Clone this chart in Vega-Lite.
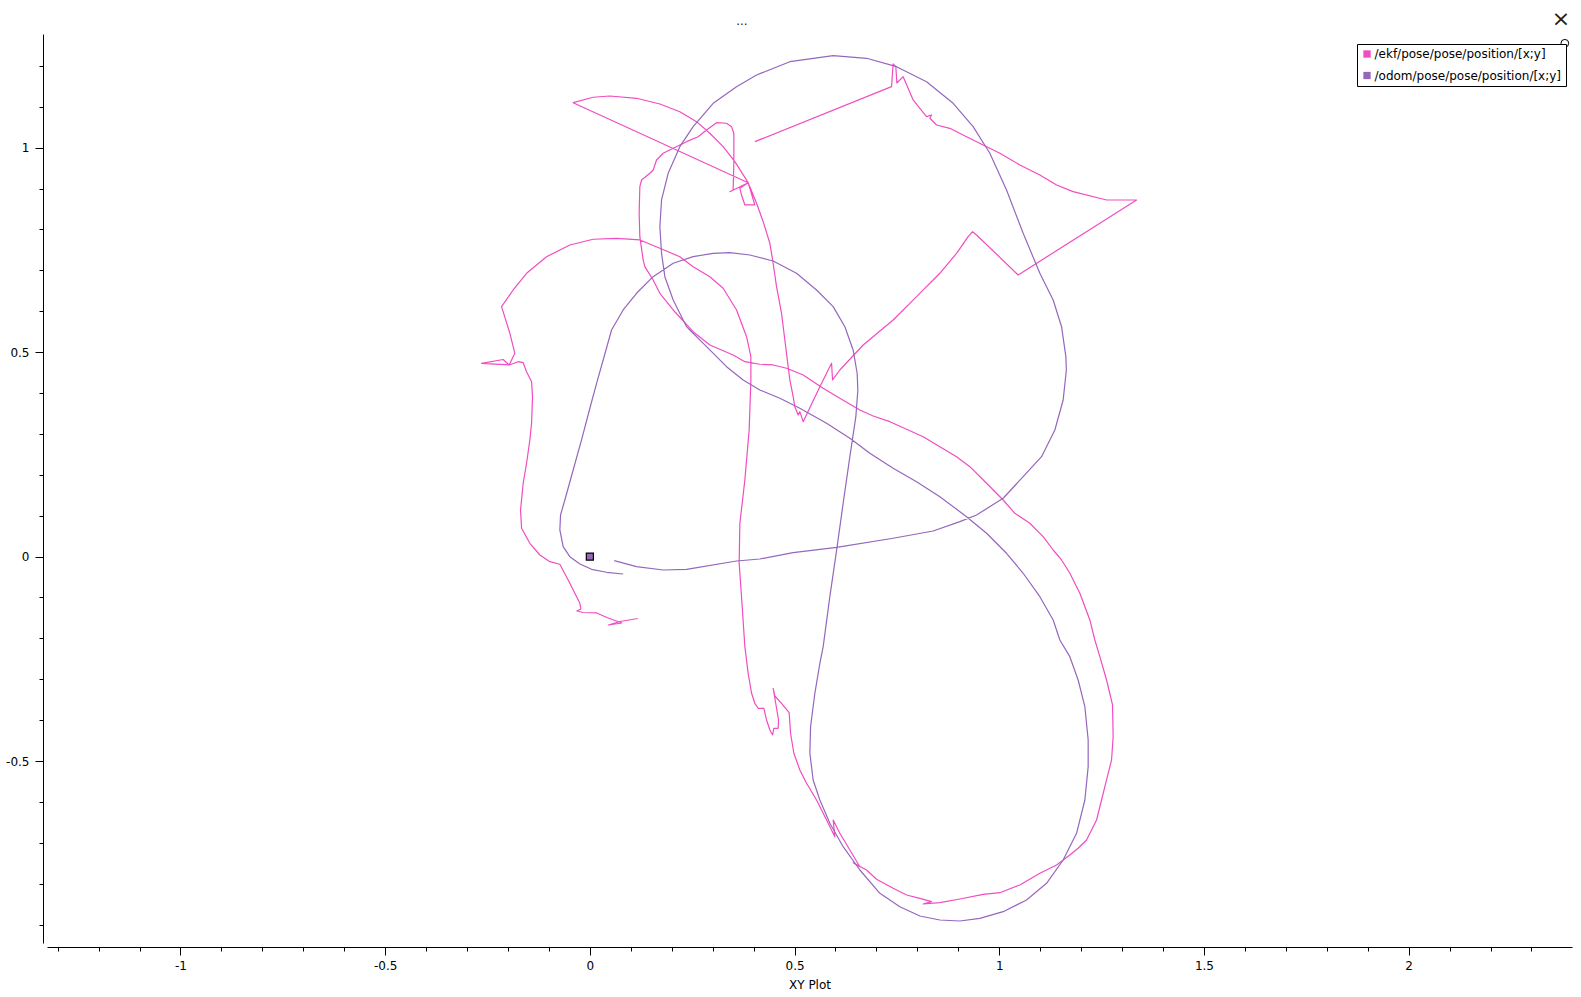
{
"$schema":"https://vega.github.io/schema/vega-lite/v6.json",
"width":1525,"height":909,
"autosize":{"type":"none"},
"padding":{"left":47,"top":34,"right":9,"bottom":54},
"background":"white",
"config":{"view":{"stroke":null},
"axis":{"domainColor":"#000","tickColor":"#000","labelColor":"#000","labelFont":"DejaVu Sans","labelFontSize":12,"titleFont":"DejaVu Sans","titleFontSize":12,"titleFontWeight":"normal","titleColor":"#000","grid":false,"domainWidth":1,"tickWidth":1,"labelOverlap":false,"labelFlush":false},
"legend":{"labelFont":"DejaVu Sans","labelFontSize":12,"labelColor":"#000"}},
"datasets":{
"curves":[
{"series":"/ekf/pose/pose/position/[x;y]","i":1,"x":0.1172,"y":-0.1514},
{"series":"/ekf/pose/pose/position/[x;y]","i":2,"x":0.0733,"y":-0.1587},
{"series":"/ekf/pose/pose/position/[x;y]","i":3,"x":0.0452,"y":-0.1673},
{"series":"/ekf/pose/pose/position/[x;y]","i":4,"x":0.0782,"y":-0.1624},
{"series":"/ekf/pose/pose/position/[x;y]","i":5,"x":0.0415,"y":-0.1489},
{"series":"/ekf/pose/pose/position/[x;y]","i":6,"x":0.0171,"y":-0.1379},
{"series":"/ekf/pose/pose/position/[x;y]","i":7,"x":-0.0171,"y":-0.1367},
{"series":"/ekf/pose/pose/position/[x;y]","i":8,"x":-0.0318,"y":-0.1330},
{"series":"/ekf/pose/pose/position/[x;y]","i":9,"x":-0.0220,"y":-0.1281},
{"series":"/ekf/pose/pose/position/[x;y]","i":10,"x":-0.0244,"y":-0.1142},
{"series":"/ekf/pose/pose/position/[x;y]","i":11,"x":-0.0489,"y":-0.0653},
{"series":"/ekf/pose/pose/position/[x;y]","i":12,"x":-0.0733,"y":-0.0188},
{"series":"/ekf/pose/pose/position/[x;y]","i":13,"x":-0.0977,"y":-0.0125},
{"series":"/ekf/pose/pose/position/[x;y]","i":14,"x":-0.1221,"y":0.0039},
{"series":"/ekf/pose/pose/position/[x;y]","i":15,"x":-0.1466,"y":0.0325},
{"series":"/ekf/pose/pose/position/[x;y]","i":16,"x":-0.1668,"y":0.0692},
{"series":"/ekf/pose/pose/position/[x;y]","i":17,"x":-0.1693,"y":0.1140},
{"series":"/ekf/pose/pose/position/[x;y]","i":18,"x":-0.1629,"y":0.1793},
{"series":"/ekf/pose/pose/position/[x;y]","i":19,"x":-0.1546,"y":0.2282},
{"series":"/ekf/pose/pose/position/[x;y]","i":20,"x":-0.1466,"y":0.2852},
{"series":"/ekf/pose/pose/position/[x;y]","i":21,"x":-0.1424,"y":0.3260},
{"series":"/ekf/pose/pose/position/[x;y]","i":22,"x":-0.1400,"y":0.3910},
{"series":"/ekf/pose/pose/position/[x;y]","i":23,"x":-0.1424,"y":0.4277},
{"series":"/ekf/pose/pose/position/[x;y]","i":24,"x":-0.1546,"y":0.4522},
{"series":"/ekf/pose/pose/position/[x;y]","i":25,"x":-0.1629,"y":0.4742},
{"series":"/ekf/pose/pose/position/[x;y]","i":26,"x":-0.1751,"y":0.4766},
{"series":"/ekf/pose/pose/position/[x;y]","i":27,"x":-0.1971,"y":0.4686},
{"series":"/ekf/pose/pose/position/[x;y]","i":28,"x":-0.2645,"y":0.4727},
{"series":"/ekf/pose/pose/position/[x;y]","i":29,"x":-0.2118,"y":0.4820},
{"series":"/ekf/pose/pose/position/[x;y]","i":30,"x":-0.1971,"y":0.4686},
{"series":"/ekf/pose/pose/position/[x;y]","i":31,"x":-0.1832,"y":0.4972},
{"series":"/ekf/pose/pose/position/[x;y]","i":32,"x":-0.1954,"y":0.5461},
{"series":"/ekf/pose/pose/position/[x;y]","i":33,"x":-0.2157,"y":0.6112},
{"series":"/ekf/pose/pose/position/[x;y]","i":34,"x":-0.1873,"y":0.6520},
{"series":"/ekf/pose/pose/position/[x;y]","i":35,"x":-0.1546,"y":0.6928},
{"series":"/ekf/pose/pose/position/[x;y]","i":36,"x":-0.1058,"y":0.7334},
{"series":"/ekf/pose/pose/position/[x;y]","i":37,"x":-0.0489,"y":0.7620},
{"series":"/ekf/pose/pose/position/[x;y]","i":38,"x":0.0081,"y":0.7760},
{"series":"/ekf/pose/pose/position/[x;y]","i":39,"x":0.0652,"y":0.7784},
{"series":"/ekf/pose/pose/position/[x;y]","i":40,"x":0.1221,"y":0.7743},
{"series":"/ekf/pose/pose/position/[x;y]","i":41,"x":0.1710,"y":0.7540},
{"series":"/ekf/pose/pose/position/[x;y]","i":42,"x":0.2198,"y":0.7334},
{"series":"/ekf/pose/pose/position/[x;y]","i":43,"x":0.2523,"y":0.7090},
{"series":"/ekf/pose/pose/position/[x;y]","i":44,"x":0.2931,"y":0.6845},
{"series":"/ekf/pose/pose/position/[x;y]","i":45,"x":0.3256,"y":0.6562},
{"series":"/ekf/pose/pose/position/[x;y]","i":46,"x":0.3583,"y":0.6031},
{"series":"/ekf/pose/pose/position/[x;y]","i":47,"x":0.3828,"y":0.5378},
{"series":"/ekf/pose/pose/position/[x;y]","i":48,"x":0.3933,"y":0.4889},
{"series":"/ekf/pose/pose/position/[x;y]","i":49,"x":0.3933,"y":0.4319},
{"series":"/ekf/pose/pose/position/[x;y]","i":50,"x":0.3891,"y":0.3096},
{"series":"/ekf/pose/pose/position/[x;y]","i":51,"x":0.3786,"y":0.1873},
{"series":"/ekf/pose/pose/position/[x;y]","i":52,"x":0.3664,"y":0.0814},
{"series":"/ekf/pose/pose/position/[x;y]","i":53,"x":0.3647,"y":-0.0164},
{"series":"/ekf/pose/pose/position/[x;y]","i":54,"x":0.3705,"y":-0.0981},
{"series":"/ekf/pose/pose/position/[x;y]","i":55,"x":0.3786,"y":-0.2203},
{"series":"/ekf/pose/pose/position/[x;y]","i":56,"x":0.3867,"y":-0.2854},
{"series":"/ekf/pose/pose/position/[x;y]","i":57,"x":0.3950,"y":-0.3343},
{"series":"/ekf/pose/pose/position/[x;y]","i":58,"x":0.4030,"y":-0.3588},
{"series":"/ekf/pose/pose/position/[x;y]","i":59,"x":0.4111,"y":-0.3710},
{"series":"/ekf/pose/pose/position/[x;y]","i":60,"x":0.4250,"y":-0.3710},
{"series":"/ekf/pose/pose/position/[x;y]","i":61,"x":0.4316,"y":-0.3996},
{"series":"/ekf/pose/pose/position/[x;y]","i":62,"x":0.4397,"y":-0.4241},
{"series":"/ekf/pose/pose/position/[x;y]","i":63,"x":0.4463,"y":-0.4363},
{"series":"/ekf/pose/pose/position/[x;y]","i":64,"x":0.4494,"y":-0.4199},
{"series":"/ekf/pose/pose/position/[x;y]","i":65,"x":0.4599,"y":-0.4199},
{"series":"/ekf/pose/pose/position/[x;y]","i":66,"x":0.4609,"y":-0.3996},
{"series":"/ekf/pose/pose/position/[x;y]","i":67,"x":0.4519,"y":-0.3465},
{"series":"/ekf/pose/pose/position/[x;y]","i":68,"x":0.4477,"y":-0.3221},
{"series":"/ekf/pose/pose/position/[x;y]","i":69,"x":0.4519,"y":-0.3409},
{"series":"/ekf/pose/pose/position/[x;y]","i":70,"x":0.4682,"y":-0.3588},
{"series":"/ekf/pose/pose/position/[x;y]","i":71,"x":0.4868,"y":-0.3818},
{"series":"/ekf/pose/pose/position/[x;y]","i":72,"x":0.4902,"y":-0.4321},
{"series":"/ekf/pose/pose/position/[x;y]","i":73,"x":0.4983,"y":-0.4810},
{"series":"/ekf/pose/pose/position/[x;y]","i":74,"x":0.5129,"y":-0.5219},
{"series":"/ekf/pose/pose/position/[x;y]","i":75,"x":0.5293,"y":-0.5544},
{"series":"/ekf/pose/pose/position/[x;y]","i":76,"x":0.5537,"y":-0.5953},
{"series":"/ekf/pose/pose/position/[x;y]","i":77,"x":0.5782,"y":-0.6442},
{"series":"/ekf/pose/pose/position/[x;y]","i":78,"x":0.5984,"y":-0.6850},
{"series":"/ekf/pose/pose/position/[x;y]","i":79,"x":0.5943,"y":-0.6442},
{"series":"/ekf/pose/pose/position/[x;y]","i":80,"x":0.6106,"y":-0.6767},
{"series":"/ekf/pose/pose/position/[x;y]","i":81,"x":0.6351,"y":-0.7175},
{"series":"/ekf/pose/pose/position/[x;y]","i":82,"x":0.6595,"y":-0.7584},
{"series":"/ekf/pose/pose/position/[x;y]","i":83,"x":0.6431,"y":-0.7486},
{"series":"/ekf/pose/pose/position/[x;y]","i":84,"x":0.6759,"y":-0.7665},
{"series":"/ekf/pose/pose/position/[x;y]","i":85,"x":0.7003,"y":-0.7892},
{"series":"/ekf/pose/pose/position/[x;y]","i":86,"x":0.7408,"y":-0.8112},
{"series":"/ekf/pose/pose/position/[x;y]","i":87,"x":0.7736,"y":-0.8276},
{"series":"/ekf/pose/pose/position/[x;y]","i":88,"x":0.8061,"y":-0.8357},
{"series":"/ekf/pose/pose/position/[x;y]","i":89,"x":0.8346,"y":-0.8440},
{"series":"/ekf/pose/pose/position/[x;y]","i":90,"x":0.8141,"y":-0.8496},
{"series":"/ekf/pose/pose/position/[x;y]","i":91,"x":0.8549,"y":-0.8464},
{"series":"/ekf/pose/pose/position/[x;y]","i":92,"x":0.9038,"y":-0.8374},
{"series":"/ekf/pose/pose/position/[x;y]","i":93,"x":0.9607,"y":-0.8259},
{"series":"/ekf/pose/pose/position/[x;y]","i":94,"x":1.0015,"y":-0.8220},
{"series":"/ekf/pose/pose/position/[x;y]","i":95,"x":1.0503,"y":-0.8031},
{"series":"/ekf/pose/pose/position/[x;y]","i":96,"x":1.0992,"y":-0.7745},
{"series":"/ekf/pose/pose/position/[x;y]","i":97,"x":1.1400,"y":-0.7542},
{"series":"/ekf/pose/pose/position/[x;y]","i":98,"x":1.1724,"y":-0.7298},
{"series":"/ekf/pose/pose/position/[x;y]","i":99,"x":1.1927,"y":-0.7134},
{"series":"/ekf/pose/pose/position/[x;y]","i":100,"x":1.2132,"y":-0.6931},
{"series":"/ekf/pose/pose/position/[x;y]","i":101,"x":1.2377,"y":-0.6442},
{"series":"/ekf/pose/pose/position/[x;y]","i":102,"x":1.2499,"y":-0.5953},
{"series":"/ekf/pose/pose/position/[x;y]","i":103,"x":1.2621,"y":-0.5463},
{"series":"/ekf/pose/pose/position/[x;y]","i":104,"x":1.2743,"y":-0.4974},
{"series":"/ekf/pose/pose/position/[x;y]","i":105,"x":1.2782,"y":-0.4404},
{"series":"/ekf/pose/pose/position/[x;y]","i":106,"x":1.2767,"y":-0.3629},
{"series":"/ekf/pose/pose/position/[x;y]","i":107,"x":1.2621,"y":-0.3018},
{"series":"/ekf/pose/pose/position/[x;y]","i":108,"x":1.2457,"y":-0.2448},
{"series":"/ekf/pose/pose/position/[x;y]","i":109,"x":1.2335,"y":-0.2040},
{"series":"/ekf/pose/pose/position/[x;y]","i":110,"x":1.2213,"y":-0.1550},
{"series":"/ekf/pose/pose/position/[x;y]","i":111,"x":1.1969,"y":-0.0898},
{"series":"/ekf/pose/pose/position/[x;y]","i":112,"x":1.1724,"y":-0.0408},
{"series":"/ekf/pose/pose/position/[x;y]","i":113,"x":1.1522,"y":-0.0083},
{"series":"/ekf/pose/pose/position/[x;y]","i":114,"x":1.1317,"y":0.0161},
{"series":"/ekf/pose/pose/position/[x;y]","i":115,"x":1.1072,"y":0.0487},
{"series":"/ekf/pose/pose/position/[x;y]","i":116,"x":1.0747,"y":0.0814},
{"series":"/ekf/pose/pose/position/[x;y]","i":117,"x":1.0381,"y":0.1059},
{"series":"/ekf/pose/pose/position/[x;y]","i":118,"x":1.0095,"y":0.1384},
{"series":"/ekf/pose/pose/position/[x;y]","i":119,"x":0.9690,"y":0.1793},
{"series":"/ekf/pose/pose/position/[x;y]","i":120,"x":0.9282,"y":0.2199},
{"series":"/ekf/pose/pose/position/[x;y]","i":121,"x":0.8957,"y":0.2443},
{"series":"/ekf/pose/pose/position/[x;y]","i":122,"x":0.8549,"y":0.2688},
{"series":"/ekf/pose/pose/position/[x;y]","i":123,"x":0.8141,"y":0.2932},
{"series":"/ekf/pose/pose/position/[x;y]","i":124,"x":0.7736,"y":0.3113},
{"series":"/ekf/pose/pose/position/[x;y]","i":125,"x":0.7328,"y":0.3299},
{"series":"/ekf/pose/pose/position/[x;y]","i":126,"x":0.6920,"y":0.3438},
{"series":"/ekf/pose/pose/position/[x;y]","i":127,"x":0.6595,"y":0.3585},
{"series":"/ekf/pose/pose/position/[x;y]","i":128,"x":0.6106,"y":0.3871},
{"series":"/ekf/pose/pose/position/[x;y]","i":129,"x":0.5699,"y":0.4116},
{"series":"/ekf/pose/pose/position/[x;y]","i":130,"x":0.5210,"y":0.4441},
{"series":"/ekf/pose/pose/position/[x;y]","i":131,"x":0.4805,"y":0.4605},
{"series":"/ekf/pose/pose/position/[x;y]","i":132,"x":0.4477,"y":0.4686},
{"series":"/ekf/pose/pose/position/[x;y]","i":133,"x":0.4152,"y":0.4703},
{"series":"/ekf/pose/pose/position/[x;y]","i":134,"x":0.3786,"y":0.4766},
{"series":"/ekf/pose/pose/position/[x;y]","i":135,"x":0.3500,"y":0.4930},
{"series":"/ekf/pose/pose/position/[x;y]","i":136,"x":0.2931,"y":0.5175},
{"series":"/ekf/pose/pose/position/[x;y]","i":137,"x":0.2523,"y":0.5500},
{"series":"/ekf/pose/pose/position/[x;y]","i":138,"x":0.2035,"y":0.6031},
{"series":"/ekf/pose/pose/position/[x;y]","i":139,"x":0.1710,"y":0.6439},
{"series":"/ekf/pose/pose/position/[x;y]","i":140,"x":0.1546,"y":0.6765},
{"series":"/ekf/pose/pose/position/[x;y]","i":141,"x":0.1343,"y":0.7090},
{"series":"/ekf/pose/pose/position/[x;y]","i":142,"x":0.1302,"y":0.7254},
{"series":"/ekf/pose/pose/position/[x;y]","i":143,"x":0.1221,"y":0.7823},
{"series":"/ekf/pose/pose/position/[x;y]","i":144,"x":0.1204,"y":0.8396},
{"series":"/ekf/pose/pose/position/[x;y]","i":145,"x":0.1221,"y":0.9046},
{"series":"/ekf/pose/pose/position/[x;y]","i":146,"x":0.1263,"y":0.9210},
{"series":"/ekf/pose/pose/position/[x;y]","i":147,"x":0.1466,"y":0.9374},
{"series":"/ekf/pose/pose/position/[x;y]","i":148,"x":0.1546,"y":0.9455},
{"series":"/ekf/pose/pose/position/[x;y]","i":149,"x":0.1629,"y":0.9699},
{"series":"/ekf/pose/pose/position/[x;y]","i":150,"x":0.1790,"y":0.9863},
{"series":"/ekf/pose/pose/position/[x;y]","i":151,"x":0.2035,"y":0.9985},
{"series":"/ekf/pose/pose/position/[x;y]","i":152,"x":0.2362,"y":1.0147},
{"series":"/ekf/pose/pose/position/[x;y]","i":153,"x":0.2645,"y":1.0269},
{"series":"/ekf/pose/pose/position/[x;y]","i":154,"x":0.2850,"y":1.0433},
{"series":"/ekf/pose/pose/position/[x;y]","i":155,"x":0.3095,"y":1.0611},
{"series":"/ekf/pose/pose/position/[x;y]","i":156,"x":0.3339,"y":1.0597},
{"series":"/ekf/pose/pose/position/[x;y]","i":157,"x":0.3461,"y":1.0514},
{"series":"/ekf/pose/pose/position/[x;y]","i":158,"x":0.3517,"y":1.0352},
{"series":"/ekf/pose/pose/position/[x;y]","i":159,"x":0.3517,"y":0.9619},
{"series":"/ekf/pose/pose/position/[x;y]","i":160,"x":0.3500,"y":0.8965},
{"series":"/ekf/pose/pose/position/[x;y]","i":161,"x":0.3420,"y":0.8924},
{"series":"/ekf/pose/pose/position/[x;y]","i":162,"x":0.3867,"y":0.9144},
{"series":"/ekf/pose/pose/position/[x;y]","i":163,"x":0.3664,"y":0.9007},
{"series":"/ekf/pose/pose/position/[x;y]","i":164,"x":0.3705,"y":0.8843},
{"series":"/ekf/pose/pose/position/[x;y]","i":165,"x":0.3786,"y":0.8599},
{"series":"/ekf/pose/pose/position/[x;y]","i":166,"x":0.4030,"y":0.8599},
{"series":"/ekf/pose/pose/position/[x;y]","i":167,"x":0.3867,"y":0.9144},
{"series":"/ekf/pose/pose/position/[x;y]","i":168,"x":-0.0408,"y":1.1100},
{"series":"/ekf/pose/pose/position/[x;y]","i":169,"x":0.0081,"y":1.1233},
{"series":"/ekf/pose/pose/position/[x;y]","i":170,"x":0.0489,"y":1.1264},
{"series":"/ekf/pose/pose/position/[x;y]","i":171,"x":0.1141,"y":1.1208},
{"series":"/ekf/pose/pose/position/[x;y]","i":172,"x":0.1710,"y":1.1069},
{"series":"/ekf/pose/pose/position/[x;y]","i":173,"x":0.2198,"y":1.0880},
{"series":"/ekf/pose/pose/position/[x;y]","i":174,"x":0.2606,"y":1.0636},
{"series":"/ekf/pose/pose/position/[x;y]","i":175,"x":0.2931,"y":1.0352},
{"series":"/ekf/pose/pose/position/[x;y]","i":176,"x":0.3256,"y":1.0024},
{"series":"/ekf/pose/pose/position/[x;y]","i":177,"x":0.3542,"y":0.9658},
{"series":"/ekf/pose/pose/position/[x;y]","i":178,"x":0.3867,"y":0.9144},
{"series":"/ekf/pose/pose/position/[x;y]","i":179,"x":0.4072,"y":0.8640},
{"series":"/ekf/pose/pose/position/[x;y]","i":180,"x":0.4233,"y":0.8190},
{"series":"/ekf/pose/pose/position/[x;y]","i":181,"x":0.4397,"y":0.7662},
{"series":"/ekf/pose/pose/position/[x;y]","i":182,"x":0.4477,"y":0.7173},
{"series":"/ekf/pose/pose/position/[x;y]","i":183,"x":0.4560,"y":0.6601},
{"series":"/ekf/pose/pose/position/[x;y]","i":184,"x":0.4682,"y":0.5950},
{"series":"/ekf/pose/pose/position/[x;y]","i":185,"x":0.4763,"y":0.5297},
{"series":"/ekf/pose/pose/position/[x;y]","i":186,"x":0.4844,"y":0.4644},
{"series":"/ekf/pose/pose/position/[x;y]","i":187,"x":0.4885,"y":0.4319},
{"series":"/ekf/pose/pose/position/[x;y]","i":188,"x":0.4966,"y":0.3910},
{"series":"/ekf/pose/pose/position/[x;y]","i":189,"x":0.5007,"y":0.3666},
{"series":"/ekf/pose/pose/position/[x;y]","i":190,"x":0.5088,"y":0.3463},
{"series":"/ekf/pose/pose/position/[x;y]","i":191,"x":0.5129,"y":0.3544},
{"series":"/ekf/pose/pose/position/[x;y]","i":192,"x":0.5210,"y":0.3299},
{"series":"/ekf/pose/pose/position/[x;y]","i":193,"x":0.5618,"y":0.4155},
{"series":"/ekf/pose/pose/position/[x;y]","i":194,"x":0.5904,"y":0.4727},
{"series":"/ekf/pose/pose/position/[x;y]","i":195,"x":0.5928,"y":0.4319},
{"series":"/ekf/pose/pose/position/[x;y]","i":196,"x":0.6106,"y":0.4563},
{"series":"/ekf/pose/pose/position/[x;y]","i":197,"x":0.6676,"y":0.5175},
{"series":"/ekf/pose/pose/position/[x;y]","i":198,"x":0.7408,"y":0.5786},
{"series":"/ekf/pose/pose/position/[x;y]","i":199,"x":0.7980,"y":0.6356},
{"series":"/ekf/pose/pose/position/[x;y]","i":200,"x":0.8549,"y":0.6928},
{"series":"/ekf/pose/pose/position/[x;y]","i":201,"x":0.8957,"y":0.7417},
{"series":"/ekf/pose/pose/position/[x;y]","i":202,"x":0.9240,"y":0.7823},
{"series":"/ekf/pose/pose/position/[x;y]","i":203,"x":0.9348,"y":0.7946},
{"series":"/ekf/pose/pose/position/[x;y]","i":204,"x":0.9446,"y":0.7865},
{"series":"/ekf/pose/pose/position/[x;y]","i":205,"x":1.0462,"y":0.6887},
{"series":"/ekf/pose/pose/position/[x;y]","i":206,"x":1.3354,"y":0.8721},
{"series":"/ekf/pose/pose/position/[x;y]","i":207,"x":1.2621,"y":0.8721},
{"series":"/ekf/pose/pose/position/[x;y]","i":208,"x":1.1805,"y":0.8924},
{"series":"/ekf/pose/pose/position/[x;y]","i":209,"x":1.1400,"y":0.9088},
{"series":"/ekf/pose/pose/position/[x;y]","i":210,"x":1.0992,"y":0.9332},
{"series":"/ekf/pose/pose/position/[x;y]","i":211,"x":1.0503,"y":0.9577},
{"series":"/ekf/pose/pose/position/[x;y]","i":212,"x":1.0015,"y":0.9863},
{"series":"/ekf/pose/pose/position/[x;y]","i":213,"x":0.9607,"y":1.0066},
{"series":"/ekf/pose/pose/position/[x;y]","i":214,"x":0.9201,"y":1.0269},
{"series":"/ekf/pose/pose/position/[x;y]","i":215,"x":0.8793,"y":1.0474},
{"series":"/ekf/pose/pose/position/[x;y]","i":216,"x":0.8469,"y":1.0555},
{"series":"/ekf/pose/pose/position/[x;y]","i":217,"x":0.8305,"y":1.0719},
{"series":"/ekf/pose/pose/position/[x;y]","i":218,"x":0.8346,"y":1.0800},
{"series":"/ekf/pose/pose/position/[x;y]","i":219,"x":0.8224,"y":1.0758},
{"series":"/ekf/pose/pose/position/[x;y]","i":220,"x":0.8061,"y":1.0964},
{"series":"/ekf/pose/pose/position/[x;y]","i":221,"x":0.7897,"y":1.1167},
{"series":"/ekf/pose/pose/position/[x;y]","i":222,"x":0.7653,"y":1.1736},
{"series":"/ekf/pose/pose/position/[x;y]","i":223,"x":0.7499,"y":1.1582},
{"series":"/ekf/pose/pose/position/[x;y]","i":224,"x":0.7474,"y":1.1974},
{"series":"/ekf/pose/pose/position/[x;y]","i":225,"x":0.7408,"y":1.2047},
{"series":"/ekf/pose/pose/position/[x;y]","i":226,"x":0.7369,"y":1.1492},
{"series":"/ekf/pose/pose/position/[x;y]","i":227,"x":0.4030,"y":1.0147},
{"series":"/odom/pose/pose/position/[x;y]","i":1,"x":0.0813,"y":-0.0426},
{"series":"/odom/pose/pose/position/[x;y]","i":2,"x":0.0408,"y":-0.0384},
{"series":"/odom/pose/pose/position/[x;y]","i":3,"x":0.0042,"y":-0.0311},
{"series":"/odom/pose/pose/position/[x;y]","i":4,"x":-0.0244,"y":-0.0181},
{"series":"/odom/pose/pose/position/[x;y]","i":5,"x":-0.0489,"y":-0.0002},
{"series":"/odom/pose/pose/position/[x;y]","i":6,"x":-0.0652,"y":0.0242},
{"series":"/odom/pose/pose/position/[x;y]","i":7,"x":-0.0733,"y":0.0651},
{"series":"/odom/pose/pose/position/[x;y]","i":8,"x":-0.0716,"y":0.1017},
{"series":"/odom/pose/pose/position/[x;y]","i":9,"x":-0.0611,"y":0.1384},
{"series":"/odom/pose/pose/position/[x;y]","i":10,"x":-0.0408,"y":0.2118},
{"series":"/odom/pose/pose/position/[x;y]","i":11,"x":-0.0203,"y":0.2852},
{"series":"/odom/pose/pose/position/[x;y]","i":12,"x":0.0,"y":0.3627},
{"series":"/odom/pose/pose/position/[x;y]","i":13,"x":0.0164,"y":0.4238},
{"series":"/odom/pose/pose/position/[x;y]","i":14,"x":0.0325,"y":0.4808},
{"series":"/odom/pose/pose/position/[x;y]","i":15,"x":0.0530,"y":0.5542},
{"series":"/odom/pose/pose/position/[x;y]","i":16,"x":0.0813,"y":0.6031},
{"series":"/odom/pose/pose/position/[x;y]","i":17,"x":0.1141,"y":0.6439},
{"series":"/odom/pose/pose/position/[x;y]","i":18,"x":0.1546,"y":0.6845},
{"series":"/odom/pose/pose/position/[x;y]","i":19,"x":0.2035,"y":0.7173},
{"series":"/odom/pose/pose/position/[x;y]","i":20,"x":0.2523,"y":0.7334},
{"series":"/odom/pose/pose/position/[x;y]","i":21,"x":0.3012,"y":0.7417},
{"series":"/odom/pose/pose/position/[x;y]","i":22,"x":0.3420,"y":0.7432},
{"series":"/odom/pose/pose/position/[x;y]","i":23,"x":0.3908,"y":0.7376},
{"series":"/odom/pose/pose/position/[x;y]","i":24,"x":0.4477,"y":0.7229},
{"series":"/odom/pose/pose/position/[x;y]","i":25,"x":0.5049,"y":0.6928},
{"series":"/odom/pose/pose/position/[x;y]","i":26,"x":0.5537,"y":0.6520},
{"series":"/odom/pose/pose/position/[x;y]","i":27,"x":0.5943,"y":0.6112},
{"series":"/odom/pose/pose/position/[x;y]","i":28,"x":0.6229,"y":0.5622},
{"series":"/odom/pose/pose/position/[x;y]","i":29,"x":0.6431,"y":0.5053},
{"series":"/odom/pose/pose/position/[x;y]","i":30,"x":0.6529,"y":0.4483},
{"series":"/odom/pose/pose/position/[x;y]","i":31,"x":0.6546,"y":0.4074},
{"series":"/odom/pose/pose/position/[x;y]","i":32,"x":0.6497,"y":0.3421},
{"series":"/odom/pose/pose/position/[x;y]","i":33,"x":0.6351,"y":0.2443},
{"series":"/odom/pose/pose/position/[x;y]","i":34,"x":0.6187,"y":0.1304},
{"series":"/odom/pose/pose/position/[x;y]","i":35,"x":0.6040,"y":0.0242},
{"series":"/odom/pose/pose/position/[x;y]","i":36,"x":0.5862,"y":-0.0981},
{"series":"/odom/pose/pose/position/[x;y]","i":37,"x":0.5699,"y":-0.2203},
{"series":"/odom/pose/pose/position/[x;y]","i":38,"x":0.5618,"y":-0.2609},
{"series":"/odom/pose/pose/position/[x;y]","i":39,"x":0.5496,"y":-0.3343},
{"series":"/odom/pose/pose/position/[x;y]","i":40,"x":0.5391,"y":-0.4160},
{"series":"/odom/pose/pose/position/[x;y]","i":41,"x":0.5374,"y":-0.4810},
{"series":"/odom/pose/pose/position/[x;y]","i":42,"x":0.5454,"y":-0.5463},
{"series":"/odom/pose/pose/position/[x;y]","i":43,"x":0.5618,"y":-0.5953},
{"series":"/odom/pose/pose/position/[x;y]","i":44,"x":0.5862,"y":-0.6522},
{"series":"/odom/pose/pose/position/[x;y]","i":45,"x":0.6187,"y":-0.7095},
{"series":"/odom/pose/pose/position/[x;y]","i":46,"x":0.6595,"y":-0.7665},
{"series":"/odom/pose/pose/position/[x;y]","i":47,"x":0.7084,"y":-0.8234},
{"series":"/odom/pose/pose/position/[x;y]","i":48,"x":0.7572,"y":-0.8562},
{"series":"/odom/pose/pose/position/[x;y]","i":49,"x":0.8061,"y":-0.8789},
{"series":"/odom/pose/pose/position/[x;y]","i":50,"x":0.8549,"y":-0.8887},
{"series":"/odom/pose/pose/position/[x;y]","i":51,"x":0.9038,"y":-0.8912},
{"series":"/odom/pose/pose/position/[x;y]","i":52,"x":0.9526,"y":-0.8846},
{"series":"/odom/pose/pose/position/[x;y]","i":53,"x":1.0095,"y":-0.8684},
{"series":"/odom/pose/pose/position/[x;y]","i":54,"x":1.0667,"y":-0.8398},
{"series":"/odom/pose/pose/position/[x;y]","i":55,"x":1.1155,"y":-0.7990},
{"series":"/odom/pose/pose/position/[x;y]","i":56,"x":1.1561,"y":-0.7420},
{"series":"/odom/pose/pose/position/[x;y]","i":57,"x":1.1888,"y":-0.6767},
{"series":"/odom/pose/pose/position/[x;y]","i":58,"x":1.2091,"y":-0.5953},
{"series":"/odom/pose/pose/position/[x;y]","i":59,"x":1.2172,"y":-0.5138},
{"series":"/odom/pose/pose/position/[x;y]","i":60,"x":1.2172,"y":-0.4485},
{"series":"/odom/pose/pose/position/[x;y]","i":61,"x":1.2091,"y":-0.3671},
{"series":"/odom/pose/pose/position/[x;y]","i":62,"x":1.1927,"y":-0.3018},
{"series":"/odom/pose/pose/position/[x;y]","i":63,"x":1.1724,"y":-0.2448},
{"series":"/odom/pose/pose/position/[x;y]","i":64,"x":1.1480,"y":-0.2040},
{"series":"/odom/pose/pose/position/[x;y]","i":65,"x":1.1317,"y":-0.1550},
{"series":"/odom/pose/pose/position/[x;y]","i":66,"x":1.0992,"y":-0.0981},
{"series":"/odom/pose/pose/position/[x;y]","i":67,"x":1.0584,"y":-0.0408},
{"series":"/odom/pose/pose/position/[x;y]","i":68,"x":1.0178,"y":0.0081},
{"series":"/odom/pose/pose/position/[x;y]","i":69,"x":0.9690,"y":0.0570},
{"series":"/odom/pose/pose/position/[x;y]","i":70,"x":0.9201,"y":0.0976},
{"series":"/odom/pose/pose/position/[x;y]","i":71,"x":0.8549,"y":0.1465},
{"series":"/odom/pose/pose/position/[x;y]","i":72,"x":0.7980,"y":0.1832},
{"series":"/odom/pose/pose/position/[x;y]","i":73,"x":0.7408,"y":0.2159},
{"series":"/odom/pose/pose/position/[x;y]","i":74,"x":0.6839,"y":0.2526},
{"series":"/odom/pose/pose/position/[x;y]","i":75,"x":0.6351,"y":0.2893},
{"series":"/odom/pose/pose/position/[x;y]","i":76,"x":0.5782,"y":0.3260},
{"series":"/odom/pose/pose/position/[x;y]","i":77,"x":0.5129,"y":0.3627},
{"series":"/odom/pose/pose/position/[x;y]","i":78,"x":0.4641,"y":0.3871},
{"series":"/odom/pose/pose/position/[x;y]","i":79,"x":0.4152,"y":0.4074},
{"series":"/odom/pose/pose/position/[x;y]","i":80,"x":0.3744,"y":0.4319},
{"series":"/odom/pose/pose/position/[x;y]","i":81,"x":0.3339,"y":0.4644},
{"series":"/odom/pose/pose/position/[x;y]","i":82,"x":0.2850,"y":0.5133},
{"series":"/odom/pose/pose/position/[x;y]","i":83,"x":0.2443,"y":0.5542},
{"series":"/odom/pose/pose/position/[x;y]","i":84,"x":0.2362,"y":0.5622},
{"series":"/odom/pose/pose/position/[x;y]","i":85,"x":0.2035,"y":0.6275},
{"series":"/odom/pose/pose/position/[x;y]","i":86,"x":0.1832,"y":0.6845},
{"series":"/odom/pose/pose/position/[x;y]","i":87,"x":0.1751,"y":0.7417},
{"series":"/odom/pose/pose/position/[x;y]","i":88,"x":0.1710,"y":0.8068},
{"series":"/odom/pose/pose/position/[x;y]","i":89,"x":0.1751,"y":0.8721},
{"series":"/odom/pose/pose/position/[x;y]","i":90,"x":0.1913,"y":0.9374},
{"series":"/odom/pose/pose/position/[x;y]","i":91,"x":0.2198,"y":1.0024},
{"series":"/odom/pose/pose/position/[x;y]","i":92,"x":0.2523,"y":1.0514},
{"series":"/odom/pose/pose/position/[x;y]","i":93,"x":0.3012,"y":1.1086},
{"series":"/odom/pose/pose/position/[x;y]","i":94,"x":0.3583,"y":1.1492},
{"series":"/odom/pose/pose/position/[x;y]","i":95,"x":0.4072,"y":1.1778},
{"series":"/odom/pose/pose/position/[x;y]","i":96,"x":0.4885,"y":1.2103},
{"series":"/odom/pose/pose/position/[x;y]","i":97,"x":0.5943,"y":1.2250},
{"series":"/odom/pose/pose/position/[x;y]","i":98,"x":0.6759,"y":1.2186},
{"series":"/odom/pose/pose/position/[x;y]","i":99,"x":0.7491,"y":1.1981},
{"series":"/odom/pose/pose/position/[x;y]","i":100,"x":0.8224,"y":1.1614},
{"series":"/odom/pose/pose/position/[x;y]","i":101,"x":0.8874,"y":1.1086},
{"series":"/odom/pose/pose/position/[x;y]","i":102,"x":0.9362,"y":1.0514},
{"series":"/odom/pose/pose/position/[x;y]","i":103,"x":0.9770,"y":0.9863},
{"series":"/odom/pose/pose/position/[x;y]","i":104,"x":1.0178,"y":0.8965},
{"series":"/odom/pose/pose/position/[x;y]","i":105,"x":1.0584,"y":0.7907},
{"series":"/odom/pose/pose/position/[x;y]","i":106,"x":1.0992,"y":0.6928},
{"series":"/odom/pose/pose/position/[x;y]","i":107,"x":1.1317,"y":0.6275},
{"series":"/odom/pose/pose/position/[x;y]","i":108,"x":1.1522,"y":0.5622},
{"series":"/odom/pose/pose/position/[x;y]","i":109,"x":1.1627,"y":0.4889},
{"series":"/odom/pose/pose/position/[x;y]","i":110,"x":1.1639,"y":0.4563},
{"series":"/odom/pose/pose/position/[x;y]","i":111,"x":1.1561,"y":0.3830},
{"series":"/odom/pose/pose/position/[x;y]","i":112,"x":1.1358,"y":0.3096},
{"series":"/odom/pose/pose/position/[x;y]","i":113,"x":1.1033,"y":0.2443},
{"series":"/odom/pose/pose/position/[x;y]","i":114,"x":1.0584,"y":0.1954},
{"series":"/odom/pose/pose/position/[x;y]","i":115,"x":1.0095,"y":0.1426},
{"series":"/odom/pose/pose/position/[x;y]","i":116,"x":0.9446,"y":0.1017},
{"series":"/odom/pose/pose/position/[x;y]","i":117,"x":0.9038,"y":0.0854},
{"series":"/odom/pose/pose/position/[x;y]","i":118,"x":0.8385,"y":0.0626},
{"series":"/odom/pose/pose/position/[x;y]","i":119,"x":0.7408,"y":0.0448},
{"series":"/odom/pose/pose/position/[x;y]","i":120,"x":0.6026,"y":0.0227},
{"series":"/odom/pose/pose/position/[x;y]","i":121,"x":0.4966,"y":0.0095},
{"series":"/odom/pose/pose/position/[x;y]","i":122,"x":0.4152,"y":-0.0059},
{"series":"/odom/pose/pose/position/[x;y]","i":123,"x":0.3583,"y":-0.0108},
{"series":"/odom/pose/pose/position/[x;y]","i":124,"x":0.2362,"y":-0.0311},
{"series":"/odom/pose/pose/position/[x;y]","i":125,"x":0.1790,"y":-0.0328},
{"series":"/odom/pose/pose/position/[x;y]","i":126,"x":0.1141,"y":-0.0247},
{"series":"/odom/pose/pose/position/[x;y]","i":127,"x":0.0594,"y":-0.0100}
],
"marker":[{"x":0,"y":0}],
"chrome":[{"x":2.372,"y":1.315,"label":"×","size":22},{"x":0.3713,"y":1.3099,"label":"...","size":12}],
"handle":[{"x":2.3815,"y":1.2553}]
},
"layer":[
{"data":{"name":"curves"},
"mark":{"type":"line","strokeWidth":1.2,"strokeJoin":"round","clip":true},
"encoding":{
"x":{"field":"x","type":"quantitative","scale":{"domain":[-1.326,2.399],"nice":false,"zero":false},
"axis":{"orient":"bottom","offset":4,"values":[-1.3,-1.2,-1.1,-1,-0.9,-0.8,-0.7,-0.6,-0.5,-0.4,-0.3,-0.2,-0.1,0,0.1,0.2,0.3,0.4,0.5,0.6,0.7,0.8,0.9,1,1.1,1.2,1.3,1.4,1.5,1.6,1.7,1.8,1.9,2,2.1,2.2,2.3],
"labelExpr":"abs(datum.value*2-round(datum.value*2))<0.001 ? ''+datum.value : ''",
"tickSize":{"condition":{"test":"abs(datum.value*2-round(datum.value*2))<0.001","value":8},"value":4},
"labelPadding":5,"title":"XY Plot","titlePadding":8}},
"y":{"field":"y","type":"quantitative","scale":{"domain":[-0.945,1.278],"nice":false,"zero":false},
"axis":{"orient":"left","offset":4,"values":[-0.9,-0.8,-0.7,-0.6,-0.5,-0.4,-0.3,-0.2,-0.1,0,0.1,0.2,0.3,0.4,0.5,0.6,0.7,0.8,0.9,1,1.1,1.2],
"labelExpr":"abs(datum.value*2-round(datum.value*2))<0.001 ? ''+datum.value : ''",
"tickSize":{"condition":{"test":"abs(datum.value*2-round(datum.value*2))<0.001","value":8},"value":4},
"labelPadding":6,"title":null}},
"color":{"field":"series","type":"nominal","scale":{"domain":["/ekf/pose/pose/position/[x;y]","/odom/pose/pose/position/[x;y]"],"range":["#f14cc1","#9467bd"]},
"legend":{"title":null,"orient":"none","legendX":1310,"legendY":10,"symbolType":"square","symbolSize":53,"symbolStrokeWidth":0,"symbolOpacity":1,"labelOffset":1.5,"padding":4,"rowPadding":9.5,"strokeColor":"#000","fillColor":"white","labelLimit":400,
"encode":{"symbols":{"update":{"fill":{"scale":"color","field":"value"},"fillOpacity":{"value":1},"strokeWidth":{"value":0}}}}}},
"order":{"field":"i","type":"quantitative"}
}},
{"data":{"name":"marker"},
"mark":{"type":"point","shape":"square","size":50,"filled":true,"fill":"#9467bd","stroke":"#000","strokeWidth":1.2,"opacity":1},
"encoding":{"x":{"field":"x","type":"quantitative"},"y":{"field":"y","type":"quantitative"}}},
{"data":{"name":"handle"},
"mark":{"type":"point","shape":"circle","size":60,"filled":true,"fill":"white","stroke":"#000","strokeWidth":1,"opacity":1,"clip":false},
"encoding":{"x":{"field":"x","type":"quantitative"},"y":{"field":"y","type":"quantitative"}}},
{"data":{"name":"chrome"},
"mark":{"type":"text","font":"DejaVu Sans","color":"#222","baseline":"middle","align":"center","clip":false},
"encoding":{"x":{"field":"x","type":"quantitative"},"y":{"field":"y","type":"quantitative"},"text":{"field":"label"},"size":{"field":"size","type":"quantitative","scale":null}}}
]
}
